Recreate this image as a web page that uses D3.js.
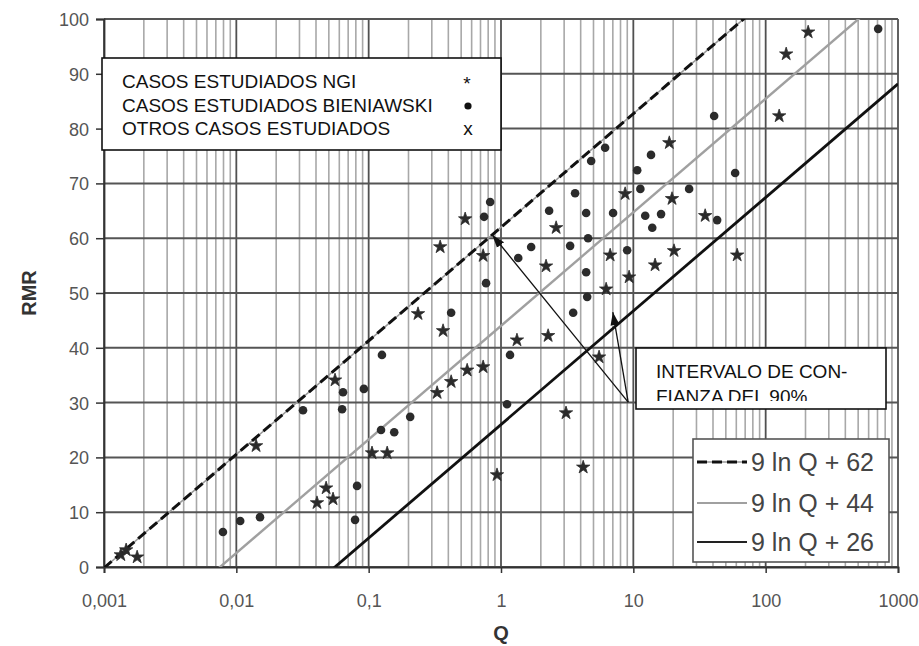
<!DOCTYPE html>
<html lang="es">
<head>
<meta charset="UTF-8">
<title>RMR - Q</title>
<script src="https://d3js.org/d3.v7.min.js"></script>
<style>
  body { margin: 0; background: #fff; }
  svg text { font-family: Arial, "Liberation Sans", sans-serif; }
</style>
</head>
<body>
<script>
// casos estudiados NGI (estrellas)
const ngiQ   = [0.00134, 0.00147, 0.00178, 0.0141, 0.347, 0.536, 0.236, 0.365, 0.733, 1.32, 2.27, 5.51,
                0.555, 0.733, 0.420, 0.329, 3.10, 0.933, 4.18, 0.106, 0.138, 0.0477, 0.0538, 0.0407,
                6.23, 9.29, 14.6, 20.3, 60.9, 18.7, 126.5, 142.9, 209.5, 6.68, 8.67, 19.6, 34.9, 2.19, 2.61, 0.0557];
const ngiRMR = [2.2, 3.1, 1.8, 22.1, 58.4, 63.5, 46.2, 43.1, 56.8, 41.4, 42.2, 38.3,
                35.9, 36.5, 33.8, 31.8, 28.1, 16.8, 18.2, 20.8, 20.8, 14.4, 12.4, 11.7,
                50.7, 52.9, 55.1, 57.7, 56.9, 77.4, 82.3, 93.6, 97.6, 56.9, 68.1, 67.2, 64.1, 54.9, 61.9, 34.1];

// casos estudiados Bieniawski (puntos)
const bieQ   = [0.828, 0.745, 2.31, 4.40, 4.80, 6.12, 10.7, 11.3, 26.4, 58.8, 40.8, 708, 13.6, 12.3, 16.2,
                43.0, 13.9, 4.55, 1.69, 1.35, 4.40, 0.771, 4.48, 3.51, 0.420, 0.126, 1.17, 1.11, 0.206,
                0.124, 0.156, 0.0319, 0.063, 0.064, 0.092, 0.00792, 0.0107, 0.0151, 0.0789, 0.0817,
                3.33, 3.63, 7.03, 8.98];
const bieRMR = [66.6, 63.9, 65.0, 64.6, 74.1, 76.5, 72.4, 69.0, 69.0, 71.9, 82.3, 98.2, 75.2, 64.1, 64.4,
                63.3, 61.9, 60.0, 58.4, 56.4, 53.8, 51.8, 49.3, 46.4, 46.4, 38.7, 38.7, 29.7, 27.4,
                25.0, 24.6, 28.6, 28.8, 31.9, 32.5, 6.4, 8.4, 9.1, 8.6, 14.8,
                58.6, 68.2, 64.6, 57.8];

// otros casos estudiados (x)
const otrQ   = [10.9, 0.933, 1.72];
const otrRMR = [76.6, 47.1, 43.2];

// rectas RMR = 9 ln Q + b
const fitB     = [62, 44, 26];
const fitLabel = ["9 ln Q + 62", "9 ln Q + 44", "9 ln Q + 26"];

const xTicks = [0.001, 0.01, 0.1, 1, 10, 100, 1000];
const xTickLabels = ["0,001", "0,01", "0,1", "1", "10", "100", "1000"];
const yTicks = d3.range(0, 101, 10);

const W = 919, H = 646;
const margin = { top: 19, right: 21, bottom: 79, left: 104 };

const svg = d3.select("body").append("svg")
    .attr("width", W)
    .attr("height", H);

const x = d3.scaleLog().domain([0.001, 1000]).range([margin.left, W - margin.right]);
const y = d3.scaleLinear().domain([0, 100]).range([H - margin.bottom, margin.top]);

svg.append("clipPath").attr("id", "plot")
  .append("rect")
    .attr("x", x(0.001)).attr("y", y(100))
    .attr("width", x(1000) - x(0.001)).attr("height", y(0) - y(100));

// rejilla vertical menor
const minor = [];
for (let e = -3; e < 3; e++) {
    for (let k = 2; k <= 9; k++) minor.push(k * Math.pow(10, e));
}
svg.append("g").selectAll("line").data(minor).join("line")
    .attr("x1", d => x(d)).attr("x2", d => x(d))
    .attr("y1", y(0)).attr("y2", y(100))
    .attr("stroke", "#a8a8a8").attr("stroke-width", 1.6);

// rejilla mayor
svg.append("g").selectAll("line").data(xTicks).join("line")
    .attr("x1", d => x(d)).attr("x2", d => x(d))
    .attr("y1", y(0)).attr("y2", y(100))
    .attr("stroke", "#505050").attr("stroke-width", 1.8);

svg.append("g").selectAll("line").data(yTicks).join("line")
    .attr("x1", x(0.001)).attr("x2", x(1000))
    .attr("y1", d => y(d)).attr("y2", d => y(d))
    .attr("stroke", "#555").attr("stroke-width", 2);

// ejes
const axisL = svg.append("g")
    .attr("transform", `translate(${x(0.001)},0)`)
    .call(d3.axisLeft(y).tickValues(yTicks).tickSize(8).tickPadding(7));
const axisB = svg.append("g")
    .attr("transform", `translate(0,${y(0)})`)
    .call(d3.axisBottom(x).tickValues(xTicks).tickFormat((d, i) => xTickLabels[i]).tickSize(6).tickPadding(21));
[axisL, axisB].forEach(a => {
    a.select(".domain").attr("stroke", "#333").attr("stroke-width", 1.8);
    a.selectAll(".tick line").attr("stroke", "#333").attr("stroke-width", 1.5);
    a.selectAll(".tick text").attr("fill", "#555").style("font-size", "18px");
});
axisL.selectAll(".tick text").attr("dy", "0.36em");

svg.append("text")
    .attr("transform", `translate(36,${y(50)}) rotate(-90)`)
    .attr("text-anchor", "middle")
    .style("font-size", "20px").style("font-weight", "bold").attr("fill", "#333")
    .text("RMR");
svg.append("text")
    .attr("x", x(1)).attr("y", 640)
    .attr("text-anchor", "middle")
    .style("font-size", "20px").style("font-weight", "bold").attr("fill", "#333")
    .text("Q");

// rectas
const fitPts = b => [0.001, 1000].map(q => [x(q), y(9 * Math.log(q) + b)]);
const lineGen = d3.line();
const gFit = svg.append("g").attr("clip-path", "url(#plot)");
gFit.append("path").attr("d", lineGen(fitPts(fitB[0])))
    .attr("fill", "none").attr("stroke", "#999").attr("stroke-width", 1.6);
gFit.append("path").attr("d", lineGen(fitPts(fitB[0])))
    .attr("fill", "none").attr("stroke", "#111").attr("stroke-width", 3).attr("stroke-dasharray", "10,5");
gFit.append("path").attr("d", lineGen(fitPts(fitB[1])))
    .attr("fill", "none").attr("stroke", "#a0a0a0").attr("stroke-width", 2.4);
gFit.append("path").attr("d", lineGen(fitPts(fitB[2])))
    .attr("fill", "none").attr("stroke", "#111").attr("stroke-width", 2.8);

// puntos
const ngi = ngiQ.map((q, i) => [q, ngiRMR[i]]);
const bie = bieQ.map((q, i) => [q, bieRMR[i]]);
const otr = otrQ.map((q, i) => [q, otrRMR[i]]);

svg.append("g").selectAll("path").data(ngi).join("path")
    .attr("transform", d => `translate(${x(d[0])},${y(d[1])})`)
    .attr("d", d3.symbol(d3.symbolStar, 55))
    .attr("fill", "#2b2b2b").attr("stroke", "#2b2b2b").attr("stroke-width", 0.8);
svg.append("g").selectAll("circle").data(bie).join("circle")
    .attr("cx", d => x(d[0])).attr("cy", d => y(d[1])).attr("r", 4.3)
    .attr("fill", "#2b2b2b");
svg.append("g").selectAll("path").data(otr).join("path")
    .attr("transform", d => `translate(${x(d[0])},${y(d[1])})`)
    .attr("d", d3.symbol(d3.symbolTimes, 45))
    .attr("fill", "#888");

// flechas
svg.append("defs").append("marker")
    .attr("id", "head").attr("viewBox", "0 0 10 10")
    .attr("refX", 10).attr("refY", 5)
    .attr("markerWidth", 13).attr("markerHeight", 13)
    .attr("markerUnits", "userSpaceOnUse")
    .attr("orient", "auto")
  .append("path").attr("d", "M0,1.5L10,5L0,8.5Z").attr("fill", "#111");
const arrowFrom = [9.14, 30.1];
const arrowTo = [[0.86, 60.6], [7.0, 46.5]];
svg.append("g").selectAll("line").data(arrowTo).join("line")
    .attr("x1", x(arrowFrom[0])).attr("y1", y(arrowFrom[1]))
    .attr("x2", d => x(d[0])).attr("y2", d => y(d[1]))
    .attr("stroke", "#111").attr("stroke-width", 1.3)
    .attr("marker-end", "url(#head)");

// leyenda de casos
const leg1 = svg.append("g");
leg1.append("rect").attr("x", 102).attr("y", 58).attr("width", 399).attr("height", 92)
    .attr("fill", "#fff").attr("stroke", "#111").attr("stroke-width", 1.6);
const casos = ["CASOS ESTUDIADOS NGI", "CASOS ESTUDIADOS BIENIAWSKI", "OTROS CASOS ESTUDIADOS"];
const casosY = [88, 112, 135];
leg1.selectAll("text.lab").data(casos).join("text").attr("class", "lab")
    .attr("x", 122).attr("y", (d, i) => casosY[i])
    .style("font-size", "19px").attr("fill", "#111")
    .text(d => d);
leg1.append("text").attr("x", 467).attr("y", 90).attr("text-anchor", "middle")
    .style("font-size", "19px").attr("fill", "#111").text("*");
leg1.append("circle").attr("cx", 468).attr("cy", 106).attr("r", 3.6).attr("fill", "#111");
leg1.append("text").attr("x", 468).attr("y", 135).attr("text-anchor", "middle")
    .style("font-size", "19px").attr("fill", "#111").text("x");

// cuadro del intervalo
const box = svg.append("g");
box.append("clipPath").attr("id", "boxclip")
  .append("rect").attr("x", 636).attr("y", 348).attr("width", 250).attr("height", 53);
box.append("rect").attr("x", 636).attr("y", 348).attr("width", 250).attr("height", 61)
    .attr("fill", "#fff").attr("stroke", "#111").attr("stroke-width", 1.6);
const interv = ["INTERVALO DE CON-", "FIANZA DEL 90%"];
box.append("g").attr("clip-path", "url(#boxclip)")
  .selectAll("text").data(interv).join("text")
    .attr("x", 656).attr("y", (d, i) => 378 + i * 25)
    .style("font-size", "19px").attr("fill", "#111")
    .text(d => d);

// leyenda de rectas
const leg2 = svg.append("g");
leg2.append("rect").attr("x", 693).attr("y", 439).attr("width", 196).attr("height", 123)
    .attr("fill", "#fff").attr("stroke", "#555").attr("stroke-width", 1.6);
const legY = [462, 503, 542];
const legStyle = [
    { stroke: "#111", w: 3, dash: "10,5" },
    { stroke: "#a0a0a0", w: 2, dash: null },
    { stroke: "#222", w: 2, dash: null }
];
fitLabel.forEach((t, i) => {
    if (i === 0) {
        leg2.append("line").attr("x1", 697).attr("x2", 747).attr("y1", legY[i]).attr("y2", legY[i])
            .attr("stroke", "#999").attr("stroke-width", 1.4);
    }
    leg2.append("line").attr("x1", 697).attr("x2", 747).attr("y1", legY[i]).attr("y2", legY[i])
        .attr("stroke", legStyle[i].stroke).attr("stroke-width", legStyle[i].w)
        .attr("stroke-dasharray", legStyle[i].dash);
    leg2.append("text").attr("x", 751).attr("y", legY[i] + 9)
        .style("font-size", "25px").attr("fill", "#444")
        .text(t);
});
</script>
</body>
</html>
